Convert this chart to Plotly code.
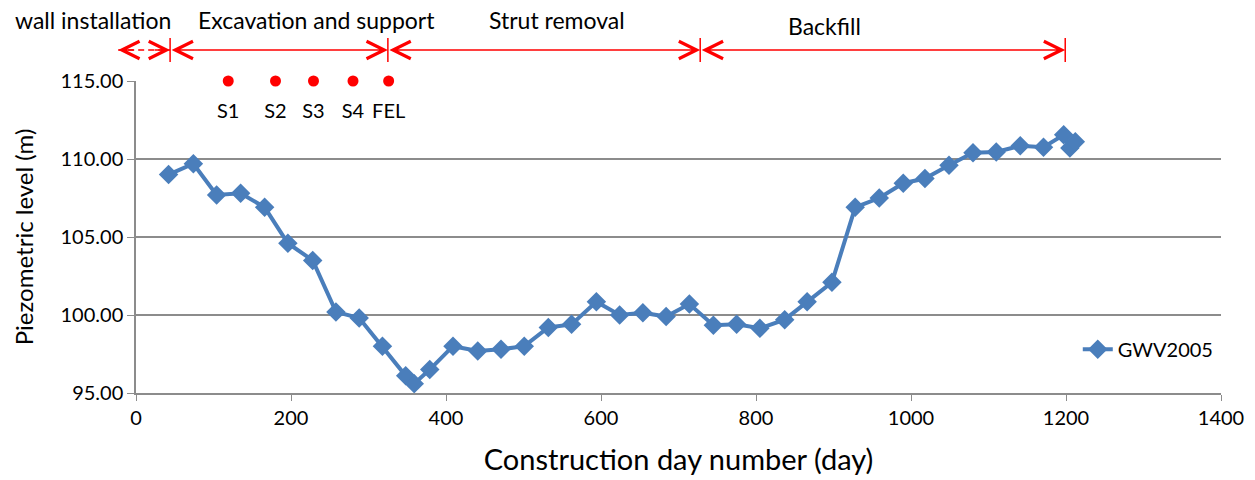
import plotly.graph_objects as go

# ---- data ----
days = [42, 74, 104, 135, 166, 196, 228, 258, 288, 318, 348, 359, 379, 409, 441, 471, 501, 532,
        562, 594, 624, 654, 684, 714, 745, 775, 805, 837, 866, 898, 928, 959, 990, 1018, 1049,
        1080, 1110, 1141, 1171, 1197, 1205, 1212]
levels = [109.0, 109.7, 107.7, 107.8, 106.9, 104.6, 103.5, 100.2, 99.8, 98.0, 96.1, 95.6, 96.5,
          98.0, 97.7, 97.8, 98.0, 99.2, 99.4, 100.85, 100.0, 100.15, 99.9, 100.7, 99.35, 99.4,
          99.15, 99.7, 100.85, 102.1, 106.9, 107.5, 108.45, 108.75, 109.6, 110.4, 110.45, 110.85,
          110.75, 111.55, 110.7, 111.1]

stage_days = [119, 180, 229, 280, 326]
stage_labels = ["S1", "S2", "S3", "S4", "FEL"]
stage_level = 115.0
stage_label_level = 112.95

phase_names = ["wall installation", "Excavation and support", "Strut removal", "Backfill"]
phase_bounds = [-23, 44, 325, 728, 1199]
phase_label_x = [-55, 233, 543, 889]

x_range = [0, 1400]
y_range = [95, 115]

BLUE = "#4A7EBB"
RED = "#FF0000"
GRID = "#8C8C8C"
FONT = "Lato"

def ypaper(px):
    # vertical position relative to plot area height (312 px)
    return px / 312.0

fig = go.Figure()
fig.add_trace(go.Scatter(
    x=days, y=levels, mode="lines+markers", name="GWV2005",
    line=dict(color=BLUE, width=4),
    marker=dict(symbol="diamond", size=15, color=BLUE),
))
fig.add_trace(go.Scatter(
    x=stage_days, y=[stage_level] * len(stage_days), mode="markers",
    marker=dict(color=RED, size=11), showlegend=False, cliponaxis=False,
))
fig.add_trace(go.Scatter(
    x=stage_days, y=[stage_label_level] * len(stage_days), mode="text",
    text=stage_labels, textfont=dict(family=FONT, size=20, color="#000000"),
    showlegend=False, cliponaxis=False,
))

shapes = []
annotations = []
arrow_y = 1.0 + ypaper(31)

# dashed wall-installation segment
shapes.append(dict(type="line", xref="paper", yref="paper",
                   x0=phase_bounds[0] / x_range[1], x1=phase_bounds[1] / x_range[1],
                   y0=arrow_y, y1=arrow_y, line=dict(color=RED, width=1.5, dash="6px,4px")))
annotations.append(dict(xref="paper", yref="paper", axref="pixel", ayref="pixel",
                        x=phase_bounds[0] / x_range[1], y=arrow_y, ax=17, ay=0, text="",
                        showarrow=True, arrowhead=5, arrowsize=2.3, arrowwidth=1.5, arrowcolor=RED))
annotations.append(dict(xref="x", yref="paper", axref="x", ayref="pixel",
                        x=phase_bounds[1], y=arrow_y, ax=phase_bounds[1] - 22, ay=0, text="",
                        showarrow=True, arrowhead=5, arrowsize=2.3, arrowwidth=1.5, arrowcolor=RED))

# solid double arrows
for a, b in zip(phase_bounds[1:-1], phase_bounds[2:]):
    annotations.append(dict(xref="x", yref="paper", axref="x", ayref="pixel",
                            x=b, y=arrow_y, ax=a, ay=0, text="", showarrow=True,
                            arrowside="end+start", arrowhead=5, startarrowhead=5,
                            arrowsize=2.3, startarrowsize=2.3, arrowwidth=1.5, arrowcolor=RED))

# vertical boundary ticks
for b in phase_bounds[1:]:
    shapes.append(dict(type="line", xref="x", yref="paper", x0=b, x1=b,
                       y0=1.0 + ypaper(19), y1=1.0 + ypaper(43),
                       line=dict(color=RED, width=1.5)))

# phase labels
label_y = [1.0 + ypaper(61), 1.0 + ypaper(61), 1.0 + ypaper(61), 1.0 + ypaper(55)]
for name, lx, ly in zip(phase_names, phase_label_x, label_y):
    annotations.append(dict(xref="paper", yref="paper", x=lx / x_range[1], y=ly,
                            text=name, showarrow=False, xanchor="center", yanchor="middle",
                            font=dict(family=FONT, size=23, color="#000000")))

fig.update_layout(
    width=1255, height=480,
    margin=dict(l=136, r=34, t=81, b=87),
    plot_bgcolor="white", paper_bgcolor="white",
    font=dict(family=FONT, size=20, color="#000000"),
    shapes=shapes, annotations=annotations,
    showlegend=True,
    legend=dict(x=0.868, y=0.14, xanchor="left", yanchor="middle",
                bgcolor="rgba(0,0,0,0)", font=dict(family=FONT, size=20)),
    xaxis=dict(range=x_range, dtick=200, tick0=0, showgrid=False, zeroline=False,
               showline=True, linecolor=GRID, linewidth=1.5, ticks="outside", ticklen=6,
               tickcolor=GRID, tickfont=dict(family=FONT, size=20), automargin=False,
               title=dict(text="Construction day number (day)", font=dict(family=FONT, size=29),
                          standoff=22)),
    yaxis=dict(range=y_range, dtick=5, tick0=95, tickformat=".2f", showgrid=True,
               gridcolor=GRID, gridwidth=1.5, zeroline=False, showline=True, linecolor=GRID,
               linewidth=1.5, ticks="outside", ticklen=7, tickcolor=GRID,
               tickfont=dict(family=FONT, size=20), automargin=False,
               title=dict(text="Piezometric level (m)", font=dict(family=FONT, size=24),
                          standoff=20)),
)

fig.write_html("out.html", config={"displayModeBar": False},
               post_script="document.body.style.margin='0';document.body.style.overflow='hidden';")
